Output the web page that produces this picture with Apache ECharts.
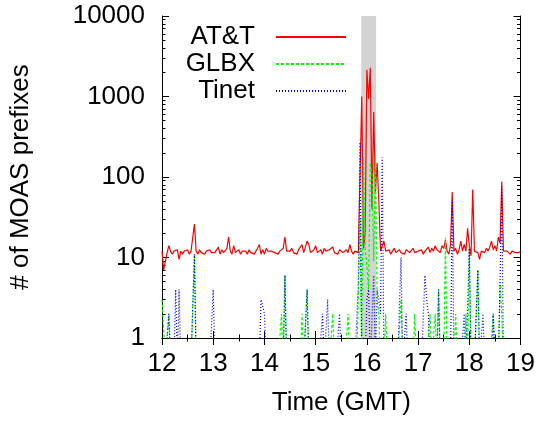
<!DOCTYPE html>
<html>
<head>
<meta charset="utf-8">
<script src="https://cdn.jsdelivr.net/npm/echarts@6/dist/echarts.min.js"></script>
<style>
html, body { margin: 0; background: #fff; }
#chart { width: 538px; height: 421px; }
</style>
</head>
<body>
<div id="chart"></div>
<script>
// samples every 2 minutes from 12:00 to 19:00 GMT
var startHour = 12
var stepHours = 2 / 60

// AT&T: number of MOAS prefixes per sample
var att = [
    12, 7, 9, 11.5, 14, 12, 11, 12, 11.5, 12.5,
    9.5, 12, 11, 12, 11.5, 12.5, 11, 12, 11.5, 26,
    12, 11, 12.5, 11.5, 12, 11, 12, 11.5, 12.5, 11.5,
    12, 11.5, 12, 13.5, 11, 12.5, 11.5, 12, 13, 18,
    12, 11, 14, 11.5, 12, 12.5, 11, 12, 11.5, 12,
    11, 12.5, 11.5, 12, 11, 12, 13, 14.5, 11, 12.5,
    11, 13, 12, 11.5, 12, 12.5, 11.5, 12, 11, 12,
    12.5, 13, 18, 12, 11.5, 12, 13, 11.5, 12, 11,
    12.5, 12, 14.5, 11.5, 12, 16, 14.5, 11.5, 12, 12.5,
    14, 11.5, 12, 12.5, 11, 13, 12, 11.5, 12.5, 12,
    13.5, 11.5, 12, 11, 12.5, 12, 11.5, 12, 12.5, 11.5,
    14.5, 12, 11, 12, 12.5, 11.5, 12, 1000, 13, 20,
    2150, 930, 2270, 40, 640, 65, 150, 50, 12, 11.5,
    16, 12, 11.5, 12.5, 11, 12, 13, 11.5, 12, 12.5,
    11.5, 12, 11, 12.5, 12, 11.5, 12, 13, 11.5, 12,
    12, 11.5, 12.5, 11, 12, 12.5, 13.5, 11.5, 13, 12,
    14, 12.5, 13, 11.5, 14, 13, 16.5, 12, 11, 14,
    65, 12, 13, 11, 12.5, 16, 12, 14.5, 12, 23,
    14, 10.5, 70, 12, 12.5, 11.5, 9.5, 12, 12.5, 11.5,
    13, 12, 13.5, 16, 12.5, 14, 12, 18, 15, 88,
    12, 11.5, 12, 12.5, 11, 12, 12.5, 11.5, 12, 11.5, 12,
]

// GLBX and Tinet are zero most of the time: [sample index, count] for the non-zero samples
var glbx = [
    [0, 3], [1, 3], [4, 2], [19, 11], [70, 2], [72, 6], [82, 2], [85, 4],
    [100, 2], [109, 2], [115, 3], [116, 30], [118, 180], [119, 13], [120, 8],
    [121, 4], [122, 150], [123, 110], [124, 9], [125, 200], [126, 3], [127, 2],
    [131, 2], [140, 3], [148, 2], [157, 2], [160, 2], [162, 4], [166, 17.6],
    [172, 2], [178, 2], [180, 13], [185, 7], [194, 2], [198, 5], [199, 2],
]
var tinet = [
    [4, 2], [8, 4], [10, 4], [19, 11], [30, 4], [58, 3], [59, 2.5], [60, 2],
    [72, 6], [85, 4], [94, 2], [97, 3], [104, 2], [115, 5], [116, 270],
    [120, 3], [121, 4], [124, 6], [126, 4], [127, 3], [128, 2], [129, 175],
    [140, 10], [143, 2], [154, 6], [155, 3], [156, 2], [162, 4], [170, 52],
    [177, 2], [180, 13], [185, 7], [188, 2], [194, 2], [198, 5], [199, 76],
]

// shaded event window (hours)
var eventStart = 15.89
var eventEnd = 16.18

var seriesNames = ['AT&T', 'GLBX', 'Tinet']
var yTicks = [1, 10, 100, 1000, 10000]

var font = 'Liberation Sans, Arial, Helvetica, sans-serif'

var times = att.map((v, i) => startHour + i * stepHours)

var attData = att.map((v, i) => [times[i], v])

// a log axis cannot place 0, so zero samples sit below the axis and get clipped
var zeroOnLog = 0.5
var sparseToData = (spikes) => {
    var values = times.map(() => zeroOnLog)
    spikes.forEach((s) => {
        values[s[0]] = s[1]
    })
    return times.map((t, i) => [t, values[i]])
}

// gnuplot style minor log ticks 2..9 per decade, placed on a hidden 0..4 axis
var minorLog = []
for (var d = 0; d < 4; d++) {
    for (var k = 2; k < 10; k++) {
        minorLog.push(d + Math.log10(k))
    }
}

var black = '#000'

var xAxisBase = (position, showLabels) => {
    return {
        type: 'value',
        position: position,
        min: 12,
        max: 19,
        interval: 1,
        axisLine: {lineStyle: {color: black, width: 1}},
        axisTick: {inside: true, length: 7, lineStyle: {color: black}},
        minorTick: {show: true, splitNumber: 2, length: 3.5, lineStyle: {color: black}},
        splitLine: {show: false},
        axisLabel: {
            show: showLabels,
            fontSize: 26,
            fontFamily: font,
            color: black,
            margin: 13,
        },
    }
}

var xBottom = xAxisBase('bottom', true)
xBottom.name = 'Time (GMT)'
xBottom.nameLocation = 'middle'
xBottom.nameGap = 52
xBottom.nameTextStyle = {fontSize: 26, fontFamily: font, color: black}

var yAxisLog = (position, showLabels) => {
    return {
        type: 'log',
        logBase: 10,
        position: position,
        min: yTicks[0],
        max: yTicks[yTicks.length - 1],
        axisLine: {show: true, lineStyle: {color: black, width: 1}},
        axisTick: {show: true, inside: true, length: 7, lineStyle: {color: black}},
        splitLine: {show: false},
        axisLabel: {
            show: showLabels,
            fontSize: 26,
            fontFamily: font,
            color: black,
            margin: 17,
            formatter: (v) => String(Math.round(v)),
        },
    }
}

var yLeft = yAxisLog('left', true)
yLeft.name = '# of MOAS prefixes'
yLeft.nameLocation = 'middle'
yLeft.nameGap = 128
yLeft.nameTextStyle = {fontSize: 26, fontFamily: font, color: black}

var yMinor = (position) => {
    return {
        type: 'value',
        position: position,
        min: 0,
        max: 4,
        axisLine: {show: false},
        axisLabel: {show: false},
        splitLine: {show: false},
        axisTick: {
            show: true,
            inside: true,
            length: 3.5,
            customValues: minorLog,
            lineStyle: {color: black},
        },
    }
}

var element = document.querySelector('#chart')
var myChart = echarts.init(element, null, {renderer: 'canvas'})

var option = {
    animation: false,
    backgroundColor: '#fff',
    grid: {left: 162, right: 15, top: 16, bottom: 83},
    legend: {
        data: seriesNames,
        orient: 'vertical',
        align: 'right',
        right: 186,
        top: 19,
        itemWidth: 70,
        itemHeight: 1,
        itemGap: 1,
        itemStyle: {opacity: 0},
        formatter: '{t|{name}}',
        textStyle: {
            fontSize: 26,
            fontFamily: font,
            color: black,
            rich: {
                t: {fontSize: 26, fontFamily: font, color: black, padding: [0, 16, 0, 0]},
            },
        },
    },
    xAxis: [xBottom, xAxisBase('top', false)],
    yAxis: [yLeft, yAxisLog('right', false), yMinor('left'), yMinor('right')],
    series: [
        {
            name: seriesNames[0],
            type: 'line',
            data: attData,
            symbol: 'none',
            color: '#ff0000',
            lineStyle: {color: '#ff0000', width: 1.2},
            markArea: {
                silent: true,
                itemStyle: {color: '#d3d3d3'},
                data: [[{xAxis: eventStart}, {xAxis: eventEnd}]],
            },
        },
        {
            name: seriesNames[1],
            type: 'line',
            data: sparseToData(glbx),
            symbol: 'none',
            color: '#00ff00',
            lineStyle: {color: '#00ff00', width: 1.2, type: [3, 2]},
        },
        {
            name: seriesNames[2],
            type: 'line',
            data: sparseToData(tinet),
            symbol: 'none',
            color: '#0000ff',
            lineStyle: {color: '#0000ff', width: 1.2, type: [1, 2]},
        },
    ],
}

myChart.setOption(option)
</script>
</body>
</html>
